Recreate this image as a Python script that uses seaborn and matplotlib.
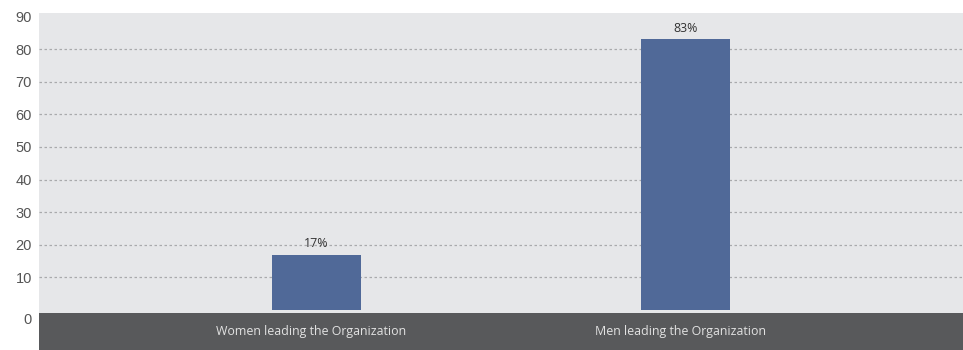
import matplotlib
matplotlib.use("Agg")
import matplotlib.pyplot as plt
import matplotlib.transforms as mtransforms
import seaborn as sns
import pandas as pd

# Share of organizations by gender of leadership
categories = ["Women leading the Organization", "Men leading the Organization"]
values = [17, 83]
value_labels = ["17%", "83%"]
y_ticks = [10, 20, 30, 40, 50, 60, 70, 80, 90]

df = pd.DataFrame({"category": categories, "value": values})

sns.set_theme(style="white")
plt.rcParams["font.family"] = ["Liberation Sans", "DejaVu Sans"]

fig = plt.figure(figsize=(9.63, 3.5), dpi=100)
ax = fig.add_axes([39 / 963, 0.0, 1 - 39 / 963, 337 / 350])

bg = "#e6e7e9"
band = "#58595b"
bar_color = "#506998"

ax.set_facecolor(bg)
sns.barplot(data=df, x="category", y="value", color=bar_color, width=0.24,
            saturation=1, linewidth=0, ax=ax, zorder=2)

ax.set_xlim(-0.75, 1.75)
ax.set_ylim(-12.3, 91.1)

# dotted horizontal guides
for t in y_ticks[:-1]:
    ax.axhline(t, color="#a9aaac", lw=0.9, ls=(0, (2, 2)), zorder=1)

# dark category band along the bottom
ax.axhspan(-12.3, -0.92, color=band, zorder=3, lw=0)

ax.set_yticks(y_ticks)
ax.set_yticklabels([str(t) for t in y_ticks], color="#555555", fontsize=10.5)
ax.tick_params(axis="y", length=0, pad=5)
ax.tick_params(axis="x", length=0, labelbottom=False)
ax.set_xlabel("")
ax.set_ylabel("")
for s in ax.spines.values():
    s.set_visible(False)

# zero label sits beside the band
ax.text(-0.0075, -3.1, "0", transform=ax.get_yaxis_transform(), ha="right",
        va="center", color="#555555", fontsize=10.5)

# category names are nudged slightly left of the bar centres
shift = mtransforms.ScaledTranslation(-5 / 100, 0, fig.dpi_scale_trans)
for i, (cat, v, lab) in enumerate(zip(categories, values, value_labels)):
    ax.text(i, -6.6, cat, ha="center", va="center", color="#e2e2e2",
            fontsize=8.9, family=["Open Sans", "DejaVu Sans"], zorder=4,
            transform=ax.transData + shift)
    ax.text(i, v + 3.3, lab, ha="center", va="center", color="#333333",
            fontsize=8.9, family=["Open Sans", "DejaVu Sans"], zorder=4)

fig.savefig("out.png", dpi=100, facecolor="white")
